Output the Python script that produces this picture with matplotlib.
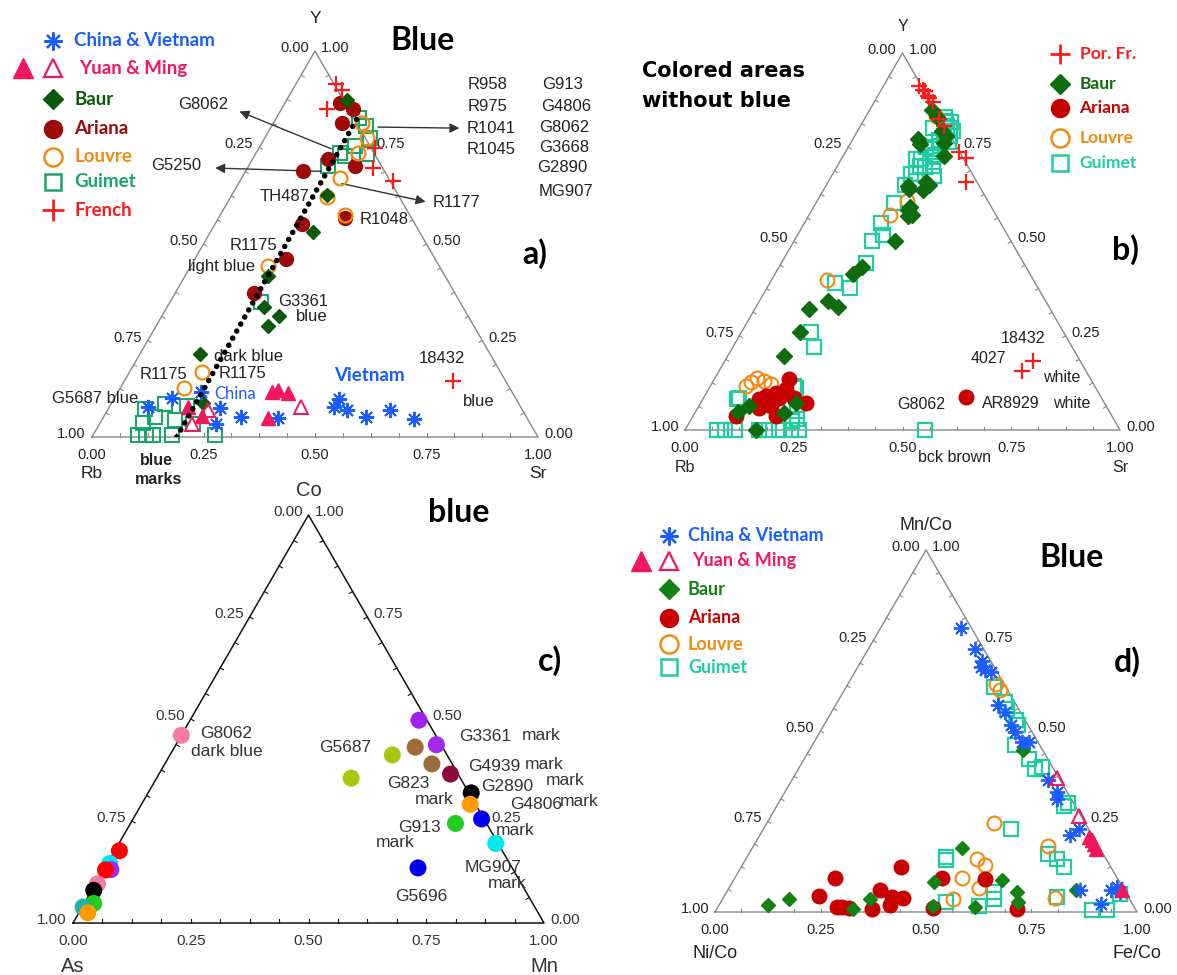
import numpy as np
import matplotlib
matplotlib.use("Agg")
import matplotlib.pyplot as plt

# ---------------- DATA (ternary fractions: r = bottom/right component, t = apex component) -------------
# Panel a) Blue : apex Y, left Rb, right Sr  (a_*_sr = Sr fraction, a_*_y = Y fraction)
a_french_sr = [0.090, 0.111, 0.102, 0.260, 0.281, 0.343, 0.737]
a_french_y = [0.915, 0.899, 0.850, 0.749, 0.698, 0.664, 0.144]
a_ariana_sr = [0.123, 0.160, 0.154, 0.169, 0.128, 0.238, 0.283, 0.195, 0.204, 0.176]
a_ariana_y = [0.866, 0.850, 0.814, 0.721, 0.690, 0.703, 0.568, 0.553, 0.460, 0.374]
a_baur_sr = [0.135, 0.213, 0.230, 0.185, 0.217, 0.262, 0.252, 0.135, 0.205]
a_baur_y = [0.873, 0.628, 0.532, 0.417, 0.336, 0.314, 0.287, 0.214, 0.088]
a_louvre_sr = [0.198, 0.229, 0.228, 0.220, 0.215, 0.279, 0.172, 0.163, 0.143]
a_louvre_y = [0.814, 0.775, 0.736, 0.672, 0.623, 0.576, 0.443, 0.168, 0.127]
a_guimet_sr = [0.185, 0.211, 0.236, 0.212, 0.250, 0.188, 0.203, 0.178, 0.204,
               0.101, 0.119, 0.135, 0.177, 0.274, 0.083, 0.121, 0.164, 0.173, 0.209, 0.096, 0.115]
a_guimet_y = [0.827, 0.806, 0.775, 0.755, 0.734, 0.736, 0.729, 0.703, 0.349,
              0.004, 0.004, 0.004, 0.004, 0.004, 0.072, 0.085, 0.044, 0.080, 0.034, 0.036, 0.052]
a_cv_sr = [0.087, 0.130, 0.185, 0.250, 0.307, 0.262, 0.392, 0.505, 0.503, 0.537, 0.587, 0.634, 0.699]
a_cv_y = [0.078, 0.100, 0.117, 0.075, 0.052, 0.034, 0.048, 0.098, 0.077, 0.069, 0.053, 0.069, 0.047]
a_ym_full_sr = [0.346, 0.357, 0.382, 0.370, 0.176, 0.220]
a_ym_full_y = [0.116, 0.121, 0.114, 0.049, 0.078, 0.054]
a_ym_open_sr = [0.430, 0.225, 0.207]
a_ym_open_y = [0.078, 0.070, 0.034]
a_trend_sr = [0.190, 0.182]
a_trend_y = [0.0, 0.830]

# Panel b) Colored areas without blue : apex Y, left Rb, right Sr
b_porfr_sr = [0.083, 0.097, 0.102, 0.116, 0.122, 0.134, 0.172, 0.193, 0.260, 0.284, 0.318, 0.696, 0.709]
b_porfr_y = [0.912, 0.902, 0.898, 0.886, 0.880, 0.870, 0.826, 0.807, 0.738, 0.722, 0.658, 0.156, 0.182]
b_baur_sr = [0.143, 0.165, 0.194, 0.209, 0.216, 0.148, 0.233, 0.188, 0.226, 0.221, 0.228, 0.232, 0.180,
             0.192, 0.157, 0.189, 0.126, 0.133, 0.128, 0.220, 0.205, 0.163, 0.097, 0.115, 0.194,
             0.230, 0.235, 0.222, 0.237, 0.160]
b_baur_y = [0.848, 0.830, 0.794, 0.781, 0.760, 0.773, 0.727, 0.647, 0.658, 0.591, 0.567, 0.500, 0.414,
            0.432, 0.342, 0.325, 0.320, 0.261, 0.197, 0.072, 0.044, 0.000, 0.048, 0.063, 0.640,
            0.636, 0.651, 0.583, 0.570, 0.759]
b_ariana_sr = [0.172, 0.178, 0.160, 0.141, 0.129, 0.174, 0.208, 0.243, 0.191, 0.099, 0.141, 0.166, 0.601]
b_ariana_y = [0.136, 0.110, 0.099, 0.091, 0.083, 0.086, 0.086, 0.072, 0.037, 0.037, 0.059, 0.064, 0.088]
b_louvre_sr = [0.096, 0.117, 0.089, 0.082, 0.137, 0.128, 0.187, 0.206, 0.161]
b_louvre_y = [0.139, 0.131, 0.126, 0.118, 0.123, 0.399, 0.570, 0.608, 0.834]
b_guimet_sr = [0.074, 0.092, 0.115, 0.170, 0.194, 0.217, 0.244, 0.263, 0.552,
               0.079, 0.243, 0.200, 0.188, 0.161, 0.081, 0.192, 0.233, 0.235,
               0.190, 0.150, 0.195, 0.179, 0.196, 0.176, 0.179, 0.181, 0.191, 0.204, 0.236,
               0.184, 0.207, 0.192, 0.209, 0.204, 0.199, 0.203, 0.184, 0.218, 0.225,
               0.170, 0.190, 0.210, 0.220, 0.200, 0.180, 0.210, 0.170, 0.190, 0.220, 0.180, 0.200]
b_guimet_y = [0.000, 0.000, 0.000, 0.000, 0.000, 0.000, 0.000, 0.000, 0.000,
              0.083, 0.029, 0.112, 0.219, 0.259, 0.086, 0.118, 0.051, 0.024,
              0.377, 0.390, 0.443, 0.500, 0.518, 0.548, 0.601, 0.649, 0.680, 0.697, 0.675,
              0.719, 0.724, 0.746, 0.754, 0.781, 0.807, 0.816, 0.829, 0.794, 0.763,
              0.800, 0.820, 0.800, 0.780, 0.770, 0.750, 0.730, 0.720, 0.700, 0.700, 0.680, 0.660]

# Panel c) blue : apex Co, left As, right Mn
c_mn = [0.000, 0.010, 0.005, 0.015, 0.004, 0.004, 0.004, 0.020, 0.002, 0.019,
        0.486, 0.553, 0.511, 0.567, 0.619, 0.686, 0.698, 0.740, 0.690, 0.800, 0.665, 0.472, 0.413]
c_co = [0.460, 0.177, 0.146, 0.131, 0.130, 0.096, 0.080, 0.048, 0.039, 0.025,
        0.497, 0.437, 0.431, 0.390, 0.365, 0.319, 0.291, 0.255, 0.244, 0.195, 0.135, 0.412, 0.355]
c_colors = ['#f47aa0', '#ff0000', '#00e8f0', '#a428f0', '#ff0000', '#f47aa0', '#000000', '#22cc22',
            '#20b2aa', '#ff9a00',
            '#a020f0', '#a428f0', '#a06a3a', '#9c6b3c', '#8b0a3a', '#000000', '#ff9a00', '#0000ee',
            '#22cc22', '#00e8f0', '#0000ee', '#a8c810', '#a8c810']

# Panel d) Blue : apex Mn/Co, left Ni/Co, right Fe/Co
d_cv_fe = [0.190, 0.254, 0.287, 0.292, 0.305, 0.322, 0.385, 0.411, 0.443, 0.461, 0.492, 0.510,
           0.607, 0.645, 0.654, 0.736, 0.747, 0.834, 0.903, 0.908, 0.917, 0.933]
d_cv_mn = [0.785, 0.726, 0.693, 0.677, 0.668, 0.662, 0.571, 0.553, 0.516, 0.498, 0.470, 0.470,
           0.364, 0.332, 0.313, 0.212, 0.230, 0.060, 0.023, 0.060, 0.069, 0.055]
d_ym_full_fe = [0.782, 0.795, 0.815, 0.804, 0.935]
d_ym_full_mn = [0.207, 0.198, 0.175, 0.189, 0.060]
d_ym_open_fe = [0.625, 0.731]
d_ym_open_mn = [0.371, 0.265]
d_baur_fe = [0.496, 0.477, 0.508, 0.635, 0.687, 0.705, 0.610, 0.825, 0.507, 0.349, 0.324, 0.158, 0.115]
d_baur_mn = [0.177, 0.083, 0.017, 0.089, 0.055, 0.028, 0.014, 0.060, 0.447, 0.035, 0.007, 0.035, 0.020]
d_ariana_fe = [0.236, 0.224, 0.281, 0.294, 0.311, 0.368, 0.359, 0.399, 0.406, 0.427, 0.378, 0.491,
               0.511, 0.593, 0.710]
d_ariana_mn = [0.095, 0.044, 0.014, 0.014, 0.011, 0.007, 0.062, 0.041, 0.018, 0.039, 0.124, 0.094,
               0.011, 0.092, 0.009]
d_louvre_fe = [0.350, 0.370, 0.537, 0.698, 0.548, 0.575, 0.537, 0.593, 0.547, 0.787]
d_louvre_mn = [0.631, 0.613, 0.246, 0.182, 0.147, 0.129, 0.095, 0.066, 0.035, 0.039]
d_guimet_fe = [0.350, 0.397, 0.411, 0.449, 0.461, 0.480, 0.533, 0.560, 0.575, 0.687, 0.680, 0.586,
               0.471, 0.476, 0.708, 0.737, 0.765, 0.634, 0.643, 0.533, 0.618, 0.892, 0.927, 0.935, 0.790]
d_guimet_mn = [0.622, 0.581, 0.562, 0.530, 0.516, 0.461, 0.424, 0.396, 0.401, 0.300, 0.292, 0.230,
               0.152, 0.143, 0.161, 0.147, 0.124, 0.055, 0.037, 0.028, 0.017, 0.005, 0.005, 0.051, 0.041]

tick_values = [0.00, 0.25, 0.50, 0.75, 1.00]

# ---------------- helpers -------------------------------------------------------------------------------
S = np.sqrt(3) / 2
FW, FH = 1177, 975
fig = plt.figure(figsize=(FW / 100, FH / 100), dpi=100)
SANS = ['Liberation Sans', 'DejaVu Sans']
BOLD = ['Lato', 'DejaVu Sans']


def cart(r, t):
    r = np.asarray(r, float)
    t = np.asarray(t, float)
    return r + t / 2, t * S


def ut(u, t):
    return u, t * S


def make_ax(blx, bly, brx, apex_y):
    ax = fig.add_axes([blx / FW, (FH - bly) / FH, (brx - blx) / FW, (bly - apex_y) / FH])
    ax.set_xlim(0, 1)
    ax.set_ylim(0, S)
    ax.axis('off')
    return ax


def frame(ax, color, names, name_fs, name_off, tick_fs=10.5, tick_color='#222222', lw=1.0):
    ax.plot([0, 1, 0.5, 0], [0, 0, S, 0], color=color, lw=lw, clip_on=False, zorder=1)
    L = 0.008
    for k in range(1, 16):
        f = k / 16
        ax.plot([f, f], [0, L], color=color, lw=0.8, clip_on=False, zorder=1)
        x, y = f / 2, f * S
        ax.plot([x, x + L * 0.866], [y, y - L * 0.5], color=color, lw=0.8, clip_on=False, zorder=1)
        x, y = 1 - f / 2, f * S
        ax.plot([x, x - L * 0.866], [y, y - L * 0.5], color=color, lw=0.8, clip_on=False, zorder=1)
    for v in tick_values:
        s = f"{v:.2f}"
        ax.annotate(s, xy=((1 - v) / 2, (1 - v) * S), xytext=(-6, 3), textcoords='offset pixels',
                    ha='right', va='center', fontsize=tick_fs, color=tick_color, family=SANS,
                    annotation_clip=False)
        ax.annotate(s, xy=(1 - v / 2, v * S), xytext=(6, 3), textcoords='offset pixels',
                    ha='left', va='center', fontsize=tick_fs, color=tick_color, family=SANS,
                    annotation_clip=False)
        ax.annotate(s, xy=(v, 0), xytext=(0, -11), textcoords='offset pixels',
                    ha='center', va='top', fontsize=tick_fs, color=tick_color, family=SANS,
                    annotation_clip=False)
    top, left, right = names
    up, down = name_off
    ax.annotate(top, xy=(0.5, S), xytext=(0, up), textcoords='offset pixels', ha='center',
                va='center', fontsize=name_fs, color=tick_color, family=SANS, annotation_clip=False)
    ax.annotate(left, xy=(0, 0), xytext=(0, -down), textcoords='offset pixels', ha='center',
                va='center', fontsize=name_fs, color=tick_color, family=SANS, annotation_clip=False)
    ax.annotate(right, xy=(1, 0), xytext=(0, -down), textcoords='offset pixels', ha='center',
                va='center', fontsize=name_fs, color=tick_color, family=SANS, annotation_clip=False)


def pts(ax, r, t, **kw):
    x, y = cart(r, t)
    kw.setdefault('linestyle', 'none')
    ax.plot(x, y, clip_on=False, **kw)


def txt(ax, u, t, s, **kw):
    kw.setdefault('fontsize', 11.5)
    kw.setdefault('family', SANS)
    kw.setdefault('color', '#222222')
    kw.setdefault('ha', 'center')
    kw.setdefault('va', 'center')
    x, y = ut(u, t)
    ax.text(x, y, s, clip_on=False, **kw)


def arrow(ax, u0, t0, u1, t1):
    ax.annotate('', xy=ut(u1, t1), xytext=ut(u0, t0), annotation_clip=False,
                arrowprops=dict(arrowstyle='-|>', color='#333333', lw=1.0, mutation_scale=14))


def leg(ax, u, t, label, color, u_text, fs=13.5, **mk):
    x, y = ut(u, t)
    ax.plot([x], [y], linestyle='none', clip_on=False, **mk)
    tx, ty = ut(u_text, t)
    ax.text(tx, ty, label, color=color, fontsize=fs, fontweight='bold', family=BOLD,
            ha='left', va='center', clip_on=False)


# colours
BLUE = '#1a5cff'
CRIMSON = '#f0175e'
RED = '#ff1a1a'
ORANGE = '#f28a10'
A_BAUR = '#0b5a0b'
A_ARIANA = '#9c0a0a'
A_GUIMET = '#19a56c'
B_BAUR = '#0e6b0e'
B_ARIANA = '#c80000'
TURQ = '#1fcda0'
D_BAUR = '#128212'
AST = (8, 2, 0)

# ================= panel a ==================
ax = make_ax(92, 437, 538, 51)
frame(ax, '#888888', ('Y', 'Rb', 'Sr'), 12.5, (33, 36))
pts(ax, a_guimet_sr, a_guimet_y, marker='s', ms=9.5, mfc='none', mec=A_GUIMET, mew=1.5, zorder=3)
pts(ax, a_ariana_sr, a_ariana_y, marker='o', ms=10, mfc=A_ARIANA, mec=A_ARIANA, zorder=4)
pts(ax, a_louvre_sr, a_louvre_y, marker='o', ms=10, mfc='none', mec=ORANGE, mew=1.6, zorder=5)
pts(ax, a_baur_sr, a_baur_y, marker='D', ms=7.5, mfc=A_BAUR, mec=A_BAUR, zorder=5)
pts(ax, a_french_sr, a_french_y, marker='+', ms=11, mec=RED, mew=1.6, zorder=6)
pts(ax, a_cv_sr, a_cv_y, marker=AST, ms=11, mec=BLUE, mew=1.4, zorder=6)
pts(ax, a_ym_full_sr, a_ym_full_y, marker='^', ms=10, mfc=CRIMSON, mec=CRIMSON, zorder=6)
pts(ax, a_ym_open_sr, a_ym_open_y, marker='^', ms=10, mfc='none', mec=CRIMSON, mew=1.4, zorder=6)
tx, ty = cart(a_trend_sr, a_trend_y)
ax.plot(tx, ty, color='black', lw=4.0, linestyle=(0, (0.01, 1.45)), dash_capstyle='round', zorder=7)

arrow(ax, 0.542, 0.744, 0.325, 0.846)
arrow(ax, 0.520, 0.688, 0.270, 0.697)
arrow(ax, 0.635, 0.803, 0.830, 0.800)
arrow(ax, 0.554, 0.658, 0.754, 0.608)
for u, t, s in [(0.249, 0.861, 'G8062'), (0.189, 0.703, 'G5250'), (0.888, 0.912, 'R958'),
                (0.888, 0.855, 'R975'), (0.896, 0.798, 'R1041'), (0.894, 0.746, 'R1045'),
                (1.055, 0.912, 'G913'), (1.064, 0.856, 'G4806'), (1.059, 0.802, 'G8062'),
                (1.059, 0.750, 'G3668'), (1.055, 0.699, 'G2890'), (1.062, 0.637, 'MG907'),
                (0.431, 0.624, 'TH487'), (0.818, 0.607, 'R1177'), (0.656, 0.564, 'R1048'),
                (0.361, 0.495, 'R1175'), (0.291, 0.443, 'light blue'), (0.474, 0.350, 'G3361'),
                (0.493, 0.312, 'blue'), (0.351, 0.208, 'dark blue'), (0.160, 0.161, 'R1175'),
                (0.338, 0.164, 'R1175'), (0.784, 0.204, '18432'), (0.866, 0.093, 'blue'),
                (0.007, 0.099, 'G5687 blue')]:
    txt(ax, u, t, s, fontsize=12)
txt(ax, 0.321, 0.112, 'China', color=BLUE, fontsize=12, family=BOLD)
txt(ax, 0.622, 0.159, 'Vietnam', color=BLUE, fontsize=13.5, family=BOLD, fontweight='bold')
txt(ax, 0.145, -0.060, 'blue', fontweight='bold', fontsize=11.5)
txt(ax, 0.150, -0.111, 'marks', fontweight='bold', fontsize=11.5)
txt(ax, 0.741, 1.028, 'Blue', color='black', fontsize=23, fontweight='bold', family=BOLD)
txt(ax, 0.992, 0.476, 'a)', color='black', fontsize=23, fontweight='bold', family=BOLD)

mu, tu = -0.087, -0.040
leg(ax, mu, 1.027, 'China & Vietnam', BLUE, tu, marker=AST, ms=13, mec=BLUE, mew=1.6)
leg(ax, mu, 0.955, 'Yuan & Ming', CRIMSON, tu + 0.01, marker='^', ms=13, mfc='none', mec=CRIMSON, mew=1.6)
x0, y0 = ut(-0.155, 0.955)
ax.plot([x0], [y0], marker='^', ms=14, mfc=CRIMSON, mec=CRIMSON, linestyle='none', clip_on=False)
leg(ax, mu, 0.875, 'Baur', A_BAUR, tu, marker='D', ms=10, mfc=A_BAUR, mec=A_BAUR)
leg(ax, mu, 0.798, 'Ariana', A_ARIANA, tu, marker='o', ms=13, mfc=A_ARIANA, mec=A_ARIANA)
leg(ax, mu, 0.726, 'Louvre', ORANGE, tu, marker='o', ms=13, mfc='none', mec=ORANGE, mew=1.8)
leg(ax, mu, 0.661, 'Guimet', A_GUIMET, tu, marker='s', ms=12, mfc='none', mec=A_GUIMET, mew=1.8)
leg(ax, mu, 0.588, 'French', RED, tu, marker='+', ms=16, mec=RED, mew=2)

# ================= panel b ==================
ax = make_ax(685, 430, 1120, 53)
frame(ax, '#888888', ('Y', 'Rb', 'Sr'), 11.5, (26, 38))
pts(ax, b_guimet_sr, b_guimet_y, marker='s', ms=10.5, mfc='none', mec=TURQ, mew=1.6, zorder=3)
pts(ax, b_louvre_sr, b_louvre_y, marker='o', ms=10, mfc='none', mec=ORANGE, mew=1.5, zorder=4)
pts(ax, b_ariana_sr, b_ariana_y, marker='o', ms=10.5, mfc=B_ARIANA, mec=B_ARIANA, zorder=5)
pts(ax, b_baur_sr, b_baur_y, marker='D', ms=8, mfc=B_BAUR, mec=B_BAUR, zorder=6)
pts(ax, b_porfr_sr, b_porfr_y, marker='+', ms=11, mec=RED, mew=1.6, zorder=7)
for u, t, s in [(0.776, 0.244, '18432'), (0.697, 0.189, '4027'), (0.867, 0.140, 'white'),
                (0.544, 0.068, 'G8062'), (0.749, 0.070, 'AR8929'), (0.888, 0.070, 'white'),
                (0.620, -0.072, 'bck brown')]:
    txt(ax, u, t, s, fontsize=11.5)
txt(ax, -0.099, 0.952, 'Colored areas', ha='left', color='black', fontsize=15, fontweight='bold',
    family=['DejaVu Sans'])
txt(ax, -0.099, 0.873, 'without blue', ha='left', color='black', fontsize=15, fontweight='bold',
    family=['DejaVu Sans'])
txt(ax, 1.013, 0.478, 'b)', color='black', fontsize=23, fontweight='bold', family=BOLD)
mu, tu = 0.861, 0.907
leg(ax, mu, 0.998, 'Por. Fr.', RED, tu, fs=12.5, marker='+', ms=15, mec=RED, mew=2)
leg(ax, mu, 0.919, 'Baur', B_BAUR, tu, fs=12.5, marker='D', ms=10, mfc=B_BAUR, mec=B_BAUR)
leg(ax, mu, 0.853, 'Ariana', B_ARIANA, tu, fs=12.5, marker='o', ms=13, mfc=B_ARIANA, mec=B_ARIANA)
leg(ax, mu, 0.774, 'Louvre', ORANGE, tu, fs=12.5, marker='o', ms=13, mfc='none', mec=ORANGE, mew=1.8)
leg(ax, mu, 0.709, 'Guimet', TURQ, tu, fs=12.5, marker='s', ms=12, mfc='none', mec=TURQ, mew=1.8)

# ================= panel c ==================
ax = make_ax(73, 923, 544, 515)
frame(ax, '#111111', ('Co', 'As', 'Mn'), 14.5, (25, 44), tick_fs=11, tick_color='#333333', lw=1.1)
cx, cy = cart(c_mn, c_co)
ax.scatter(cx, cy, s=150, c=c_colors, edgecolors='none', clip_on=False, zorder=3)
for u, t, s in [(0.325, 0.464, 'G8062'), (0.327, 0.420, 'dark blue'), (0.577, 0.429, 'G5687'),
                (0.875, 0.457, 'G3361'), (0.994, 0.460, 'mark'), (0.894, 0.384, 'G4939'),
                (1.000, 0.388, 'mark'), (0.712, 0.342, 'G823'), (0.766, 0.302, 'mark'),
                (0.922, 0.335, 'G2890'), (1.045, 0.349, 'mark'), (0.984, 0.291, 'G4806'),
                (1.075, 0.297, 'mark'), (0.939, 0.226, 'mark'), (0.735, 0.234, 'G913'),
                (0.684, 0.197, 'mark'), (0.891, 0.137, 'MG907'), (0.921, 0.096, 'mark'),
                (0.740, 0.066, 'G5696')]:
    txt(ax, u, t, s, fontsize=12.5, color='#333333')
txt(ax, 0.818, 1.006, 'blue', color='black', fontsize=23, fontweight='bold', family=BOLD)
txt(ax, 1.012, 0.644, 'c)', color='black', fontsize=23, fontweight='bold', family=BOLD)

# ================= panel d ==================
ax = make_ax(715, 912, 1137, 550)
frame(ax, '#888888', ('Mn/Co', 'Ni/Co', 'Fe/Co'), 13, (24, 41))
pts(ax, d_guimet_fe, d_guimet_mn, marker='s', ms=10, mfc='none', mec=TURQ, mew=1.6, zorder=3)
pts(ax, d_louvre_fe, d_louvre_mn, marker='o', ms=10, mfc='none', mec=ORANGE, mew=1.5, zorder=4)
pts(ax, d_ariana_fe, d_ariana_mn, marker='o', ms=10.5, mfc=B_ARIANA, mec=B_ARIANA, zorder=4)
pts(ax, d_baur_fe, d_baur_mn, marker='D', ms=7.5, mfc=D_BAUR, mec=D_BAUR, zorder=5)
pts(ax, d_cv_fe, d_cv_mn, marker=AST, ms=11, mec=BLUE, mew=1.3, zorder=6)
pts(ax, d_ym_full_fe, d_ym_full_mn, marker='^', ms=9.5, mfc=CRIMSON, mec=CRIMSON, zorder=6)
pts(ax, d_ym_open_fe, d_ym_open_mn, marker='^', ms=9.5, mfc='none', mec=CRIMSON, mew=1.4, zorder=6)
txt(ax, 0.844, 0.979, 'Blue', color='black', fontsize=23, fontweight='bold', family=BOLD)
txt(ax, 0.976, 0.693, 'd)', color='black', fontsize=23, fontweight='bold', family=BOLD)
mu, tu = -0.110, -0.064
leg(ax, mu, 1.040, 'China & Vietnam', BLUE, tu, fs=13, marker=AST, ms=13, mec=BLUE, mew=1.6)
leg(ax, mu, 0.970, 'Yuan & Ming', CRIMSON, tu + 0.01, fs=13, marker='^', ms=13, mfc='none',
    mec=CRIMSON, mew=1.6)
x0, y0 = ut(-0.176, 0.970)
ax.plot([x0], [y0], marker='^', ms=14, mfc=CRIMSON, mec=CRIMSON, linestyle='none', clip_on=False)
leg(ax, mu, 0.891, 'Baur', D_BAUR, tu, fs=13, marker='D', ms=10, mfc=D_BAUR, mec=D_BAUR)
leg(ax, mu, 0.813, 'Ariana', B_ARIANA, tu, fs=13, marker='o', ms=13, mfc=B_ARIANA, mec=B_ARIANA)
leg(ax, mu, 0.740, 'Louvre', ORANGE, tu, fs=13, marker='o', ms=13, mfc='none', mec=ORANGE, mew=1.8)
leg(ax, mu, 0.676, 'Guimet', TURQ, tu, fs=13, marker='s', ms=12, mfc='none', mec=TURQ, mew=1.8)

fig.savefig('out.png', dpi=100)
